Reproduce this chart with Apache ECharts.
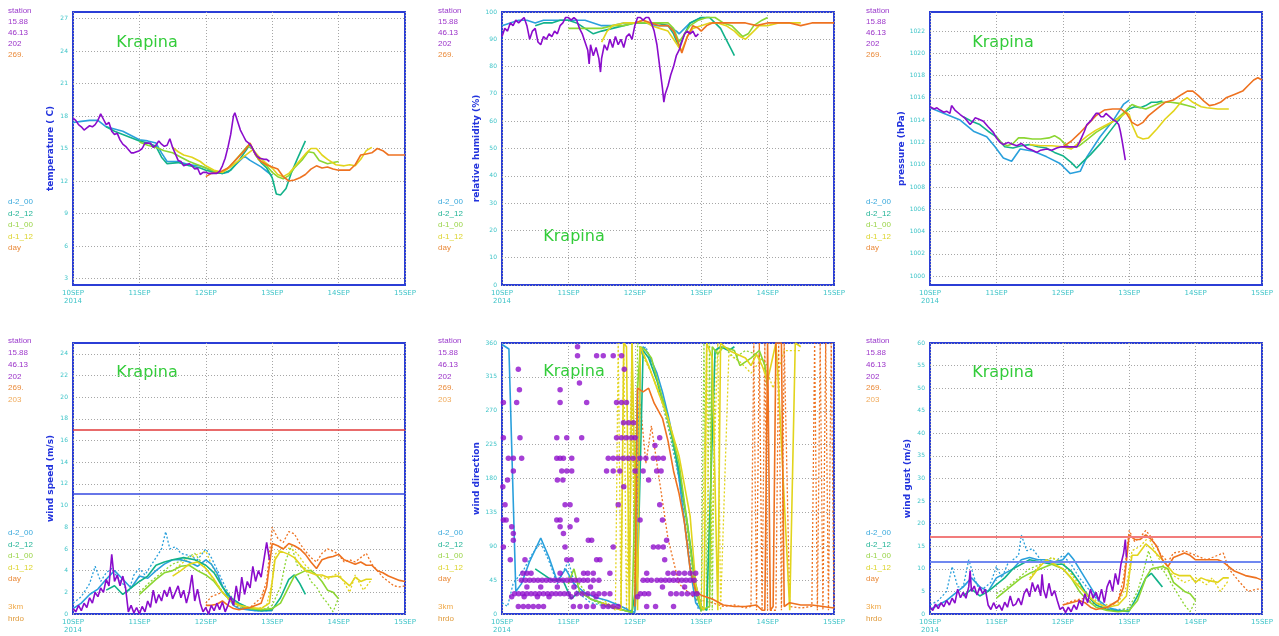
<!DOCTYPE html>
<html>
<head>
<meta charset="utf-8">
<script src="https://cdn.jsdelivr.net/npm/echarts@6/dist/echarts.min.js"></script>
<style>
html, body { margin: 0; padding: 0; background: #fff; }
#chart { width: 1279px; height: 636px; }
</style>
</head>
<body>
<div id="chart"></div>
<script>
// axis ticks / labels
var dayLabels = ['10SEP\n2014', '11SEP', '12SEP', '13SEP', '14SEP', '15SEP'];
var tempTicks = [3, 6, 9, 12, 15, 18, 21, 24, 27];
var rhTicks = [0, 10, 20, 30, 40, 50, 60, 70, 80, 90, 100];
var presTicks = [1000, 1002, 1004, 1006, 1008, 1010, 1012, 1014, 1016, 1018, 1020, 1022];
var wsTicks = [0, 2, 4, 6, 8, 10, 12, 14, 16, 18, 20, 22, 24];
var wdTicks = [0, 45, 90, 135, 180, 225, 270, 315, 360];
var wgTicks = [0, 5, 10, 15, 20, 25, 30, 35, 40, 45, 50, 55, 60];

var metaTop = ['station', '15.88', '46.13', '202', '269.'];
var metaBottom = ['station', '15.88', '46.13', '202', '269.', '203'];
var runNames = ['d-2_00', 'd-2_12', 'd-1_00', 'd-1_12', 'day'];
var extraNames = ['3km', 'hrdo'];
var stationName = 'Krapina';
var wsLimits = [17.0, 11.1];
var wgLimits = [17.2, 11.6];

// temperature (hours from 10SEP 00, degC)
var tStation = [[0,17.8],[1,17.6],[2,17.2],[3,17.0],[4,16.7],[5,16.9],[6,17.1],[7,17.0],[8,17.2],[9,17.6],[10,18.2],[11,17.7],[12,17.2],[13,17.4],[14,16.6],[15,16.3],[16,16.4],[17,15.8],[18,15.4],[19,15.2],[20,14.9],[21,14.6],[22,14.6],[23,14.7],[24,14.8],[25,15.0],[26,15.5],[27,15.5],[28,15.5],[29,15.1],[30,15.3],[31,15.7],[32,15.4],[33,15.2],[34,15.3],[35,15.9],[36,15.1],[37,14.5],[38,13.9],[39,13.8],[40,13.4],[41,13.5],[42,13.6],[43,13.4],[44,13.1],[45,13.2],[46,12.6],[47,12.8],[48,12.8],[49,12.7],[50,12.7],[51,12.7],[52,12.7],[53,12.9],[54,13.4],[55,14.1],[56,15.1],[57,16.3],[58,18.0],[58.5,18.3],[59.5,17.5],[60.5,16.7],[61.5,16.2],[62.5,15.7],[63.5,15.5],[64.5,15.2],[65.5,14.7],[66.5,14.3],[67.5,14.1],[69,14.0],[70,14.0],[71,13.8]];
var tD200 = [[0,17.4],[3,17.5],[6,17.6],[9,17.6],[12,17.0],[15,16.8],[18,16.6],[21,16.2],[24,15.8],[27,15.7],[30,15.5],[32,14.6],[34,13.8],[38,13.8],[42,13.5],[46,13.4],[48,13.2],[51,12.8],[54,12.7],[56,12.8],[58,13.3],[60,13.8],[62,14.3],[64,13.9],[66,13.6],[68,13.3],[70,12.9],[72,12.5]];
var tD212 = [[12,17.0],[15,16.6],[18,16.3],[21,16.0],[24,15.7],[27,15.5],[30,15.2],[32,14.2],[34,13.6],[38,13.7],[42,13.4],[46,13.2],[48,13.0],[51,12.8],[54,12.7],[57,13.0],[60,13.9],[63,15.0],[64,15.4],[66,14.4],[68,13.7],[70,13.2],[72,12.3],[73.5,10.8],[75,10.7],[77,11.3],[79,12.8],[81,14.0],[84,15.7]];
var tD100 = [[24,15.6],[27,15.3],[30,15.1],[33,14.8],[36,14.6],[39,14.2],[42,13.8],[45,13.5],[48,13.2],[51,12.9],[54,12.8],[57,13.4],[60,14.3],[63,15.2],[65,15.0],[67,14.0],[70,13.4],[72,12.8],[74,12.4],[76,12.2],[78,12.5],[80,13.2],[83,14.0],[85,14.7],[87,14.6],[89,13.9],[92,13.6],[94,13.7],[96,13.8]];
var tD112 = [[36,15.1],[38,14.7],[40,14.4],[43,14.2],[46,13.8],[48,13.4],[51,13.0],[54,12.8],[57,13.3],[60,13.9],[63,14.5],[65,14.9],[67,14.3],[69,13.8],[72,13.2],[74,12.6],[76,12.4],[78,12.7],[81,13.6],[84,14.5],[86,15.0],[88,15.0],[90,14.4],[92,14.0],[95,13.5],[98,13.4],[100,13.5],[102,13.4],[104,14.0],[106,14.8],[108,15.1]];
var tDay = [[48,12.4],[50,12.7],[53,12.8],[56,13.2],[59,14.0],[62,14.8],[64,15.5],[66,14.4],[68,13.8],[70,13.5],[72,13.3],[74,13.1],[76,12.4],[78,12.0],[80,12.1],[82,12.3],[84,12.6],[86,13.1],[88,13.4],[90,13.2],[92,13.3],[94,13.1],[96,13.0],[98,13.0],[100,13.0],[102,13.5],[104,14.4],[106,14.5],[108,14.6],[110,15.0],[112,14.8],[114,14.4],[117,14.4],[120,14.4]];

// relative humidity (%)
var rhStation = [[0,91],[1,94],[2,93],[3,96],[4,95],[5,97],[6,96],[7,97],[8,98],[9,95],[10,90],[11,93],[12,94],[13,89],[14,88],[15,91],[16,90],[17,92],[18,91],[19,93],[20,92],[21,95],[22,96],[23,98],[24,98],[25,97],[26,98],[27,97],[28,94],[29,92],[30,89],[31,86],[31.5,81],[32,88],[33,84],[34,87],[35,83],[35.6,78],[36,83],[37,88],[38,86],[39,90],[40,87],[41,91],[42,88],[43,90],[44,87],[45,91],[46,92],[47,90],[48,95],[49,98],[50,98],[51,97],[52,98],[53,98],[54,96],[55,93],[56,88],[57,80],[58,72],[58.5,67],[59,70],[60,73],[61,77],[62,80],[63,84],[64,86],[65,89],[66,92],[67,93],[68,92],[69,93],[70,91],[71,92]];
var rhD200 = [[0,95],[3,96],[6,97],[9,97],[12,96],[15,97],[18,97],[21,97],[24,97],[27,97],[30,97],[33,96],[36,95],[40,95],[44,96],[48,96],[52,96],[56,95],[60,95],[63,93],[64,92],[66,94],[68,96],[70,97],[72,98]];
var rhD212 = [[12,95],[15,96],[18,96],[21,97],[24,97],[27,96],[30,94],[33,92],[36,93],[40,94],[44,95],[48,96],[52,96],[56,96],[60,95],[62,92],[64,87],[66,92],[68,96],[70,97],[72,98],[75,98],[77,96],[79,94],[81,90],[83,86],[84,84]];
var rhD100 = [[24,94],[28,94],[32,94],[36,94],[40,95],[44,95],[48,96],[52,96],[56,96],[60,96],[62,94],[64,89],[66,92],[68,95],[71,97],[74,98],[77,98],[80,96],[83,95],[85,93],[87,91],[89,92],[91,95],[94,97],[96,98]];
var rhD112 = [[36,89],[38,93],[40,95],[44,96],[48,96],[51,97],[54,95],[57,94],[60,93],[62,90],[64,87],[65,86],[67,91],[69,94],[72,95],[75,96],[78,96],[81,95],[84,93],[86,91],[88,90],[90,92],[93,95],[96,95],[100,96],[104,96],[108,96]];
var rhDay = [[48,96],[51,97],[54,96],[57,95],[60,95],[62,93],[64,88],[65,85],[67,91],[69,95],[71,94],[72,93],[74,95],[76,96],[80,96],[84,96],[88,96],[92,95],[96,96],[100,96],[104,96],[108,95],[112,96],[116,96],[120,96]];

// pressure (hPa)
var pStation = [[0,1015.2],[1.5,1015.0],[2.5,1015.1],[3.6,1014.9],[5,1014.7],[6,1014.8],[7.2,1014.6],[7.8,1015.3],[9,1014.9],[10.9,1014.5],[12.5,1014.2],[14.5,1013.6],[15.5,1013.9],[16.3,1014.2],[17.5,1014.1],[19.3,1013.9],[21,1013.4],[22.9,1012.9],[24,1012.4],[25.3,1012.0],[26.5,1011.8],[28.3,1012.0],[30,1011.8],[31.4,1011.7],[33,1011.9],[35,1011.5],[37,1011.3],[38.6,1011.1],[40,1011.3],[42.2,1011.4],[44,1011.3],[45.8,1011.5],[47.5,1011.6],[49.5,1011.6],[51.5,1011.6],[53.1,1011.6],[54,1012.0],[54.9,1012.5],[55.8,1013.0],[56.7,1013.6],[58,1013.9],[59.1,1014.3],[60,1014.6],[60.9,1014.6],[61.8,1014.3],[62.7,1014.3],[63.6,1014.6],[64.5,1014.4],[65.4,1014.2],[66.3,1014.0],[67.2,1013.9],[68.2,1013.6],[68.8,1013.0],[69.4,1012.2],[70,1011.3],[70.6,1010.4]];
var pD200 = [[0,1015.1],[6,1014.5],[10.9,1014.0],[15.7,1013.0],[20.5,1012.5],[23.5,1011.6],[26.5,1010.6],[29.5,1010.3],[32.6,1011.4],[37.4,1011.2],[42.2,1010.7],[47,1010.1],[50.7,1009.2],[54.3,1009.4],[56.7,1010.7],[61.5,1012.5],[66.3,1014.0],[69.9,1015.4],[72,1015.8]];
var pD212 = [[12,1014.3],[15,1013.9],[18,1013.6],[21,1013.0],[24,1012.5],[27,1011.6],[30,1011.5],[33,1011.7],[36,1011.8],[39,1011.6],[42,1011.5],[45,1011.1],[48,1010.8],[51,1010.2],[53,1009.7],[55,1010.2],[58,1010.9],[62,1012.0],[66,1013.3],[70,1014.6],[72,1015.0],[74,1015.2],[76,1015.1],[78,1015.3],[80,1015.6],[82,1015.6],[84,1015.7]];
var pD100 = [[24,1012.5],[26,1011.9],[28,1011.7],[30,1011.9],[32,1012.4],[34,1012.4],[37,1012.3],[40,1012.3],[43,1012.4],[45,1012.6],[47,1012.3],[49,1011.8],[51,1011.5],[54,1011.7],[57,1012.3],[60,1012.9],[64,1013.5],[68,1014.2],[71,1014.9],[73,1015.4],[75,1015.2],[78,1015.0],[81,1015.3],[84,1015.6],[87,1015.6],[90,1015.5],[93,1015.3],[96,1015.1]];
var pD112 = [[36,1011.8],[40,1011.7],[44,1011.7],[48,1011.6],[51,1011.4],[54,1012.0],[57,1012.6],[60,1013.1],[64,1013.6],[68,1014.1],[71,1014.7],[72,1014.5],[73,1013.6],[75,1012.5],[77,1012.3],[79,1012.4],[82,1013.2],[85,1014.1],[88,1014.8],[91,1015.7],[93,1016.0],[95,1015.6],[98,1015.2],[100,1015.1],[104,1015.0],[108,1015.0]];
var pDay = [[48,1011.6],[51,1012.1],[54,1012.8],[57,1013.6],[60,1014.4],[63,1014.9],[66,1015.0],[69,1015.0],[71,1014.6],[73,1013.8],[75,1013.5],[77,1013.8],[79,1014.4],[82,1015.0],[85,1015.6],[88,1015.8],[91,1016.3],[93,1016.6],[95,1016.6],[97,1016.2],[99,1015.7],[101,1015.3],[103,1015.4],[105,1015.6],[107,1016.0],[110,1016.3],[113,1016.6],[115,1017.1],[117,1017.6],[118.5,1017.8],[120,1017.6]];

// wind speed (m/s)
var wsStation = [[0,0.5],[1,0.2],[2,0.8],[3,0.3],[4,1.0],[5,0.6],[6,1.5],[7,1.0],[8,2.0],[9,1.6],[10,2.4],[11,2.0],[12,3.2],[13,2.6],[14,5.5],[15,3.0],[16,3.6],[17,2.6],[18,3.5],[19,2.4],[20,0.2],[21,0.8],[22,0.1],[23,0.6],[24,0.0],[25,0.7],[26,0.2],[27,1.2],[28,0.6],[29,2.2],[30,1.0],[31,1.8],[32,1.2],[33,2.2],[34,1.6],[35,2.5],[36,1.4],[37,2.0],[38,2.6],[39,1.5],[40,2.2],[41,1.0],[42,2.0],[43,3.6],[44,1.2],[45,2.3],[46,1.0],[47,0.2],[48,0.6],[49,0.0],[50,0.8],[51,0.3],[52,1.0],[53,0.4],[54,1.1],[55,0.2],[56,0.8],[57,1.6],[58,0.8],[59,2.6],[60,1.2],[61,3.4],[62,1.8],[63,3.0],[64,2.4],[65,4.4],[66,3.0],[67,4.0],[68,3.4],[69,5.0],[70,6.6],[71,5.0]];
var wsD200 = [[0,0.5],[3,1.0],[6,1.8],[9,2.3],[12,3.2],[15,4.0],[18,3.2],[21,2.4],[24,3.5],[27,3.3],[30,4.0],[33,4.6],[36,5.0],[39,5.0],[42,4.8],[45,4.4],[48,5.0],[50,4.6],[52,3.8],[54,2.6],[56,1.6],[58,0.8],[60,0.5],[63,0.4],[66,0.3],[69,0.3],[72,0.3]];
var wsD200dot = [[0,1.0],[3,1.6],[6,2.8],[8,4.4],[10,3.0],[12,3.8],[14,4.2],[16,3.4],[18,2.8],[20,2.0],[22,3.6],[24,4.2],[26,3.6],[28,4.4],[30,5.2],[32,6.0],[33.5,7.6],[35,6.0],[37,6.2],[39,5.6],[42,5.4],[45,5.0],[48,6.0],[50,5.2],[53,3.6],[56,2.0],[59,1.0],[62,0.5],[66,0.3],[70,0.3],[72,0.4]];
var wsD212 = [[12,2.2],[15,2.6],[18,1.8],[21,2.4],[24,3.0],[27,3.5],[30,4.5],[33,4.8],[36,5.0],[40,5.2],[44,5.0],[48,4.5],[51,3.8],[54,2.5],[57,1.5],[60,1.0],[64,0.5],[68,0.3],[72,0.4],[75,1.5],[78,3.2],[80,3.6],[82,2.8],[84,1.8]];
var wsD100 = [[24,1.8],[27,2.5],[30,3.2],[33,3.8],[36,4.0],[39,4.4],[42,4.5],[45,4.0],[48,3.6],[51,3.0],[54,2.0],[57,1.2],[60,0.8],[64,0.5],[68,0.4],[72,0.5],[75,1.0],[78,2.5],[80,3.5],[84,4.0],[86,4.0],[88,3.6],[90,3.0],[92,2.2],[94,2.0],[96,1.4]];
var wsD100dot = [[24,2.0],[28,3.0],[32,3.8],[36,4.6],[40,5.0],[44,5.6],[48,4.2],[52,2.8],[56,1.4],[60,0.6],[64,0.4],[68,0.3],[72,0.8],[75,2.5],[77,5.0],[79,6.3],[81,4.5],[84,4.2],[86,3.0],[88,2.5],[90,1.6],[92,1.0],[94,0.2],[96,1.5]];
var wsD112 = [[36,3.5],[39,4.0],[42,4.6],[45,4.8],[48,4.2],[51,3.2],[54,2.0],[57,1.2],[60,0.8],[64,0.6],[68,0.5],[71,1.0],[73,5.0],[75,5.8],[78,5.5],[80,5.2],[84,4.0],[88,3.6],[90,3.6],[92,3.4],[96,3.5],[100,2.6],[102,3.4],[104,3.0],[106,3.2],[108,3.2]];
var wsD112dot = [[36,4.0],[40,4.8],[44,5.4],[48,5.8],[50,4.6],[54,2.6],[58,1.2],[62,0.6],[66,0.4],[70,0.8],[72,3.0],[73,5.5],[76,6.2],[79,6.0],[81,5.6],[84,4.5],[88,3.6],[92,3.2],[96,3.8],[100,2.0],[102,3.6],[105,2.2],[108,3.2]];
var wsDay = [[48,0.8],[50,0.8],[52,0.9],[54,1.2],[56,0.8],[58,0.5],[60,0.4],[64,0.6],[68,1.0],[70,2.5],[72,6.5],[74,6.3],[76,6.0],[78,6.5],[80,6.3],[82,6.0],[84,5.5],[86,4.8],[88,4.2],[90,5.0],[92,5.2],[94,5.3],[96,5.5],[98,5.0],[100,4.8],[102,4.6],[104,4.8],[106,4.5],[108,4.5],[110,4.0],[112,3.8],[114,3.5],[116,3.3],[118,3.1],[120,3.0]];
var wsDaydot = [[48,1.0],[50,1.6],[52,1.8],[54,2.0],[56,1.6],[58,1.0],[60,0.5],[64,0.6],[68,1.5],[70,3.0],[72,8.0],[74,7.0],[76,6.6],[78,7.6],[80,7.4],[82,6.5],[84,5.8],[86,5.2],[88,4.8],[90,5.6],[92,6.0],[94,5.8],[96,5.5],[98,4.8],[100,5.0],[102,4.8],[104,5.2],[106,5.6],[108,4.6],[110,4.0],[112,3.4],[114,3.0],[116,2.6],[118,2.5],[120,2.6]];

// wind direction (deg), station dots read row by row
var wdStation = [
[5.9,10],[7.7,10],[9.5,10],[11.3,10],[13.2,10],[15.0,10],[25.8,10],[28.2,10],[30.6,10],[33.0,10],[36.6,10],[38.4,10],[40.2,10],[42.0,10],[52.3,10],[55.5,10],[62,10],
[4.5,27],[6,27],[7.5,27],[9,27],[10.5,27],[12,27],[13.5,27],[15,27],[16.5,27],[18,27],[19.5,27],[21,27],[22.5,27],[24,27],[27,27],[29,27],[31,27],[33,27],[35,27],[37,27],[39,27],[50,27],[51.5,27],[53,27],[61,27],[63,27],[65,27],[67,27],[69,27],[70.5,27],
[3.5,23],[8,23],[12.8,23],[17,23],[25,23],[34,23],[49,23],
[9,36],[14,36],[20,36],[26,36],[32,36],[58,36],[66,36],
[7,45],[8.5,45],[10,45],[11.5,45],[13,45],[14.5,45],[16,45],[17.5,45],[19,45],[20.5,45],[22,45],[23.5,45],[25,45],[26.5,45],[28,45],[29.5,45],[31,45],[33,45],[35,45],[51,45],[52.5,45],[54,45],[56,45],[57.5,45],[59,45],[60.5,45],[62,45],[63.5,45],[65,45],[66.5,45],[68,45],[69.5,45],
[7.5,54],[9,54],[10.5,54],[21,54],[29.5,54],[31,54],[33,54],[39,54],[52.3,54],[60,54],[62,54],[64,54],[66,54],[68,54],[70,54],
[3,72],[8.3,72],[23.4,72],[25,72],[34.2,72],[35.4,72],[58.8,72],
[0.5,89],[22.8,89],[40.2,89],[54.7,89],[56.5,89],[58.3,89],
[4.1,98],[31.2,98],[32.4,98],[59.5,98],
[4.1,107],[22.2,107],
[3.5,116],[21,116],[24.6,116],
[0.5,125],[1.5,125],[19.8,125],[21,125],[27,125],[49.9,125],[58,125],
[1.1,145],[22.8,145],[24.6,145],[42,145],[57,145],
[0.3,169],[44,169],
[2,178],[20,178],[22,178],[53,178],
[4.1,190],[21.6,190],[23.4,190],[25.2,190],[37.8,190],[40.2,190],[42.6,190],[48.1,190],[55.9,190],[51,190],[57.5,190],
[2.3,207],[4.1,207],[7.1,207],[19.8,207],[21,207],[22.2,207],[25.2,207],[38.4,207],[40.2,207],[42,207],[43.8,207],[45.6,207],[47.4,207],[49.9,207],[52,207],[54.7,207],[56.5,207],[58.3,207],
[55.3,224],
[0.5,234],[6.5,234],[19.8,234],[23.4,234],[28.8,234],[41.4,234],[43.2,234],[45,234],[46.8,234],[48.1,234],[57,234],
[43.9,254],[45.7,254],[47.5,254],
[0.5,281],[5.3,281],[21,281],[30.6,281],[41.4,281],[43.2,281],[45,281],
[6.3,298],[21,298],
[28,307],
[5.9,325],[44.2,325],
[27.3,343],[34.2,343],[36.6,343],[40.2,343],[43.2,343],
[27.3,355]
];
var wdD200 = [[0,358],[2.5,352],[5,30],[7,40],[10,70],[14,101],[17,75],[20,43],[23,60],[26,40],[30,28],[34,22],[38,18],[42,12],[46,5],[48,2],[49,60],[50,345],[51,355],[53,345],[56,320],[58,295],[60,265],[62,230],[64,180],[66,120],[68,60],[70,15],[72,5]];
var wdD200dot = [[0,15],[2,10],[4,40],[8,60],[11,80],[14,95],[17,70],[20,40],[24,70],[27,30],[32,15],[38,10],[44,5],[48,5],[49,200],[50,350],[52,355],[56,310],[60,250],[64,180],[68,70],[71,5]];
var wdD212 = [[12,60],[14,55],[18,45],[22,45],[25,20],[28,30],[32,20],[36,15],[40,10],[44,5],[47,2],[49,50],[50,200],[51,350],[53,340],[56,310],[60,260],[64,190],[67,120],[70,40],[72,10],[74,5],[77,350],[79,355],[82,350],[84,355]];
var wdD100 = [[24,40],[26,60],[28,30],[32,20],[36,15],[40,10],[44,5],[47,2],[49,300],[50,355],[52,350],[54,340],[57,300],[60,260],[64,200],[67,120],[70,30],[72,5],[75,10],[76,355],[78,345],[80,355],[84,350],[86,330],[90,340],[93,350],[95,330],[96,300]];
var wdD100dot = [[24,50],[28,40],[32,20],[36,12],[40,8],[44,5],[46,3],[47,360],[48,5],[49,360],[51,345],[54,320],[58,280],[62,220],[66,140],[70,30],[72,3],[73,360],[74,5],[75,360],[76,5],[77,350],[80,355],[84,340],[88,350],[92,345],[96,330]];
var wdD112 = [[36,15],[40,10],[43,5],[44,360],[45,355],[46,5],[47,360],[49,5],[50,355],[53,330],[56,300],[60,260],[64,210],[68,130],[70,40],[72,10],[73,5],[74,360],[76,340],[78,5],[79,360],[82,350],[85,345],[88,340],[90,330],[92,345],[94,330],[96,310],[99,360],[100,300],[104,5],[106,360],[108,355]];
var wdD112dot = [[36,20],[39,12],[41,5],[42,360],[43,10],[44,360],[45,5],[47,360],[48,5],[50,350],[54,320],[58,285],[62,230],[66,140],[70,40],[72,5],[74,360],[75,5],[78,360],[79,5],[82,345],[86,335],[90,320],[94,340],[98,300],[102,350],[108,350]];
var wdDay = [[48,10],[49,300],[51,295],[53,300],[55,280],[58,260],[60,230],[62,190],[64,160],[66,120],[68,60],[70,30],[72,25],[76,20],[80,12],[84,10],[88,10],[92,12],[94,5],[95,5],[96,360],[97,5],[98,10],[99,360],[101,360],[102,10],[104,15],[108,12],[112,12],[116,10],[120,8]];
var wdDaydot = [[48,10],[50,280],[52,200],[54,250],[56,200],[58,150],[60,100],[64,40],[70,20],[76,15],[80,10],[84,12],[88,8],[90,10],[91,360],[92,5],[93,360],[94,5],[95,360],[96,5],[99,5],[100,360],[101,5],[102,360],[104,10],[108,8],[112,10],[113,360],[114,5],[115,360],[116,5],[117,360],[118,5],[119,360],[120,5]];

// wind gust (m/s)
var wgStation = [[0,1.5],[1,0.8],[2,2.2],[3,1.2],[4,2.5],[5,1.6],[6,3.0],[7,2.0],[8,3.5],[9,2.4],[10,5.5],[11,3.6],[12,4.8],[13,3.5],[14,6.0],[14.5,9.6],[15,5.0],[16,6.2],[17,4.2],[18,6.0],[19,4.5],[20,5.5],[21,2.0],[22,1.0],[23,2.5],[24,1.2],[25,2.0],[26,0.8],[27,2.6],[28,1.5],[29,4.0],[30,1.8],[31,2.2],[32,3.5],[33,2.0],[34,4.5],[35,5.6],[36,3.8],[37,7.0],[38,5.0],[39,6.5],[40,4.0],[40.5,8.8],[41,5.5],[42,3.5],[43,6.8],[44,4.0],[45,5.2],[46,3.0],[47,1.0],[48,1.5],[49,0.3],[50,1.5],[51,0.5],[52,2.0],[53,1.0],[54,3.0],[55,1.8],[56,4.5],[57,2.5],[58,5.5],[59,3.5],[60,4.8],[61,3.0],[62,5.5],[63,2.5],[64,6.0],[65,7.5],[66,5.0],[67,9.0],[68,6.5],[69,11.0],[70,13.5],[70.6,16.5],[71,12.5]];
var wgD200 = [[0,1],[3,2],[6,3],[9,4.5],[12,6],[15,8],[18,6],[21,5],[24,8],[27,9],[30,10],[33,12],[36,12.5],[39,12],[42,12],[45,11.5],[48,12],[50,13.5],[52,12],[55,9],[58,6],[61,3],[64,1.5],[68,0.8],[72,0.5]];
var wgD200dot = [[0,2],[3,3],[6,5],[8,10.5],[10,6],[12,6],[14,12],[16,8],[18,5],[22,7],[24,10.5],[26,8],[28,11],[30,12],[32,13],[33,17.5],[35,14],[37,14.5],[40,12],[44,11],[48,13],[51,11],[54,8],[58,5],[62,2],[66,1],[72,1]];
var wgD212 = [[12,4],[15,5.5],[18,4],[21,5],[24,6.5],[27,8],[30,10],[33,11],[36,12],[40,11.5],[44,11],[48,11],[51,9.5],[54,7],[57,4],[60,2],[64,1],[68,0.6],[72,0.7],[75,4],[78,8],[80,9],[82,7.5],[84,6]];
var wgD100 = [[24,3.5],[27,5],[30,6.5],[33,8],[36,9],[40,10],[44,11],[48,10],[51,8],[54,5],[57,3],[60,1.5],[64,0.8],[68,0.5],[72,0.8],[75,3],[78,8],[80,10],[84,10.5],[86,10],[88,7],[90,6],[92,5],[94,4.5],[96,3]];
var wgD100dot = [[24,4.5],[28,6.0],[32,8.0],[36,10.0],[40,11.0],[44,12.5],[48,11.0],[52,8.5],[56,5.0],[60,2.5],[64,1.0],[68,0.6],[72,1.5],[75,5.0],[77,9.0],[79,14.0],[81,10.0],[84,10.0],[86,8.0],[88,6.0],[90,4.0],[92,2.0],[94,0.5],[96,3.0]];
var wgD112 = [[36,7.5],[39,10],[42,12],[45,11],[48,10],[51,8],[54,6],[57,4],[60,2.5],[64,1.5],[68,2],[71,4],[73,13],[75,13],[78,15.5],[80,14.5],[84,12],[88,9],[90,8.5],[94,8.5],[96,7],[98,8],[100,7.5],[104,7],[106,8],[108,8]];
var wgD112dot = [[36,8.0],[40,11.0],[44,12.5],[48,11.5],[52,8.0],[56,5.0],[60,3.0],[64,2.0],[68,2.5],[71,6.0],[73,14.0],[76,15.0],[79,17.0],[82,13.0],[85,10.0],[88,8.5],[92,7.0],[96,8.0],[100,6.5],[102,8.0],[105,5.0],[108,7.5]];
var wgDay = [[48,2],[51,2.5],[54,3],[56,2.5],[58,1.5],[60,1],[64,1.5],[68,3],[70,6],[72,17.5],[74,16.5],[76,16.5],[78,17.5],[80,16.5],[82,15],[84,12],[86,10.5],[88,12.5],[90,13],[92,13.5],[94,13],[96,12],[98,12],[100,12],[104,12],[106,11.5],[108,10.5],[110,9.5],[114,8.5],[118,8],[120,7.5]];
var wgDaydot = [[48,2],[52,3],[56,3.5],[60,2],[64,1],[68,3],[70,8],[72,18.5],[74,16],[76,17],[78,18.5],[80,17],[83,13.5],[86,11.5],[88,13.5],[92,14],[96,13],[100,12],[104,13],[106,13.5],[108,10],[112,7],[115,5],[118,5.5],[120,5.5]];

var COL = {st: '#8a0ccc', d200: '#2aa0dc', d212: '#12b28a', d100: '#8cd632', d112: '#e2d41c', day: '#ee7220'};

var boxes = [[73, 12, 332, 273], [502, 12, 332, 273], [930, 12, 332, 273],
             [73, 343, 332, 271], [502, 343, 332, 271], [930, 343, 332, 271]];
var axesDef = [
    {name: 'temperature ( C)', min: 2.4, max: 27.6, ticks: tempTicks},
    {name: 'relative humidity (%)', min: 0, max: 100, ticks: rhTicks},
    {name: 'pressure (hPa)', min: 999.2, max: 1023.7, ticks: presTicks},
    {name: 'wind speed (m/s)', min: 0, max: 25, ticks: wsTicks},
    {name: 'wind direction', min: 0, max: 360, ticks: wdTicks},
    {name: 'wind gust (m/s)', min: 0, max: 60, ticks: wgTicks}
];

function ln(p, data, color, dotted, z) {
    return {
        type: 'line', xAxisIndex: p, yAxisIndex: p, data: data,
        symbol: 'none', showSymbol: false, silent: true, z: z || 2,
        lineStyle: {color: color, width: dotted ? 1.3 : 1.6, type: dotted ? [2, 2] : 'solid'}
    };
}
function limits(vals, cols, w) {
    return {
        symbol: ['none', 'none'], silent: true, label: {show: false},
        data: [{yAxis: vals[0], lineStyle: {color: cols[0], width: w, type: 'solid'}},
               {yAxis: vals[1], lineStyle: {color: cols[1], width: w, type: 'solid'}}]
    };
}

var grids = [], xAxes = [], yAxes = [];
var gridLine = {show: true, lineStyle: {color: '#a6a6a6', width: 1, type: [1, 2]}};
for (var i = 0; i < boxes.length; i++) {
    var b = boxes[i], d = axesDef[i];
    grids.push({left: b[0], top: b[1], width: b[2], height: b[3], show: true,
        borderColor: '#2b3ed6', borderWidth: 2, backgroundColor: 'transparent'});
    xAxes.push({
        type: 'value', gridIndex: i, min: 0, max: 120, interval: 24,
        axisLine: {show: false}, axisTick: {show: false},
        axisLabel: {fontSize: 7, color: '#3ec4c8', margin: 4, lineHeight: 8, fontFamily: 'DejaVu Sans',
            showMinLabel: true, showMaxLabel: true,
            formatter: function (v) { return dayLabels[Math.round(v / 24)]; }},
        splitLine: gridLine
    });
    yAxes.push({
        type: 'value', gridIndex: i, min: d.min, max: d.max,
        name: d.name, nameLocation: 'middle', nameGap: 18,
        nameTextStyle: {color: '#2233dd', fontSize: 9, fontWeight: 'bold', fontFamily: 'DejaVu Sans'},
        axisLine: {show: false},
        axisTick: {show: false, customValues: d.ticks},
        axisLabel: {customValues: d.ticks, fontSize: 6, color: '#3ec4c8', margin: 5, fontFamily: 'DejaVu Sans',
            formatter: function (v) { return String(v); }},
        splitLine: gridLine
    });
}

var series = [
    ln(0, tD200, COL.d200), ln(0, tD212, COL.d212), ln(0, tD100, COL.d100),
    ln(0, tD112, COL.d112), ln(0, tDay, COL.day), ln(0, tStation, COL.st, false, 5),

    ln(1, rhD200, COL.d200), ln(1, rhD212, COL.d212), ln(1, rhD100, COL.d100),
    ln(1, rhD112, COL.d112), ln(1, rhDay, COL.day), ln(1, rhStation, COL.st, false, 5),

    ln(2, pD200, COL.d200), ln(2, pD212, COL.d212), ln(2, pD100, COL.d100),
    ln(2, pD112, COL.d112), ln(2, pDay, COL.day), ln(2, pStation, COL.st, false, 5),

    ln(3, wsD200dot, COL.d200, true), ln(3, wsD100dot, COL.d100, true),
    ln(3, wsD112dot, COL.d112, true), ln(3, wsDaydot, COL.day, true),
    ln(3, wsD200, COL.d200), ln(3, wsD212, COL.d212), ln(3, wsD100, COL.d100),
    ln(3, wsD112, COL.d112), ln(3, wsDay, COL.day),

    ln(4, wdD200dot, COL.d200, true), ln(4, wdD100dot, COL.d100, true),
    ln(4, wdD112dot, COL.d112, true), ln(4, wdDaydot, COL.day, true),
    ln(4, wdD200, COL.d200), ln(4, wdD212, COL.d212), ln(4, wdD100, COL.d100),
    ln(4, wdD112, COL.d112), ln(4, wdDay, COL.day),
    {type: 'scatter', xAxisIndex: 4, yAxisIndex: 4, data: wdStation, symbolSize: 5.5,
        itemStyle: {color: '#9010cc'}, silent: true, z: 5},

    ln(5, wgD200dot, COL.d200, true), ln(5, wgD100dot, COL.d100, true),
    ln(5, wgD112dot, COL.d112, true), ln(5, wgDaydot, COL.day, true),
    ln(5, wgD200, COL.d200), ln(5, wgD212, COL.d212), ln(5, wgD100, COL.d100),
    ln(5, wgD112, COL.d112), ln(5, wgDay, COL.day)
];
var wsSt = ln(3, wsStation, COL.st, false, 5);
wsSt.markLine = limits(wsLimits, ['#e03a3a', '#3448e0'], 1.5);
series.push(wsSt);
var wgSt = ln(5, wgStation, COL.st, false, 5);
wgSt.markLine = limits(wgLimits, ['#f27c7c', '#7088f0'], 2);
series.push(wgSt);

// side texts
var metaCols = ['#9a3acc', '#a03ccc', '#9a30c8', '#9a30c8', '#ea8a3a', '#f0aa5a'];
var runTextCols = ['#38a8dc', '#22b496', '#9ad448', '#dcd42c', '#ea8a3a'];
var extraCols = ['#f0aa4a', '#e09a3a'];
var graphic = [];
function txt(x, y, s, c, font, align) {
    graphic.push({type: 'text', x: x, y: y, silent: true,
        style: {text: s, fill: c, font: font || '8px "Liberation Sans"', align: align || 'left', verticalAlign: 'middle'}});
}
var colX = [8, 438, 866];
for (var c = 0; c < 3; c++) {
    for (var k = 0; k < metaTop.length; k++) txt(colX[c], 11 + k * 11, metaTop[k], metaCols[k]);
    for (k = 0; k < runNames.length; k++) txt(colX[c], 202 + k * 11.5, runNames[k], runTextCols[k]);
    for (k = 0; k < metaBottom.length; k++) txt(colX[c], 341 + k * 11.8, metaBottom[k], metaCols[k]);
    for (k = 0; k < runNames.length; k++) txt(colX[c], 533 + k * 11.5, runNames[k], runTextCols[k]);
    for (k = 0; k < extraNames.length; k++) txt(colX[c], 607 + k * 11.5, extraNames[k], extraCols[k]);
}
var nameFont = '16px "DejaVu Sans"';
var namePos = [[147, 43], [574, 237], [1003, 43], [147, 373], [574, 372], [1003, 373]];
for (k = 0; k < namePos.length; k++) txt(namePos[k][0], namePos[k][1], stationName, '#33cc3a', nameFont, 'center');

var chart = echarts.init(document.getElementById('chart'));
chart.setOption({
    animation: false,
    backgroundColor: '#fff',
    grid: grids,
    xAxis: xAxes,
    yAxis: yAxes,
    series: series,
    graphic: graphic
});
</script>
</body>
</html>
